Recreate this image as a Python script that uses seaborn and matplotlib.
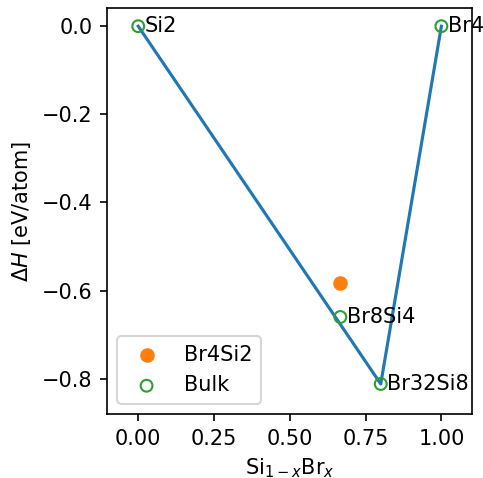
import matplotlib
matplotlib.use("Agg")
import matplotlib.pyplot as plt
import seaborn as sns
import pandas as pd

# Data
bulk_names = ["Si2", "Br4", "Br8Si4", "Br32Si8"]
bulk_x = [0.0, 1.0, 0.6667, 0.8]
bulk_y = [0.0, 0.0, -0.66, -0.812]

other_names = ["Br4Si2"]
other_x = [0.6667]
other_y = [-0.583]

hull_x = [0.0, 0.8, 1.0]
hull_y = [0.0, -0.812, 0.0]

dpi = 150
fig = plt.figure(figsize=(483 / dpi, 478 / dpi), dpi=dpi)
ax = fig.add_axes([0.2215, 0.134, 0.9766 - 0.2215, 0.983 - 0.134])

hull_df = pd.DataFrame({"x": hull_x, "y": hull_y})
sns.lineplot(data=hull_df, x="x", y="y", sort=False, color="C0", lw=1.5, ax=ax, legend=False)

sns.scatterplot(x=other_x, y=other_y, color="C1", s=36, edgecolor="C1", linewidth=1.0,
                label="Br4Si2", ax=ax, zorder=3)
sns.scatterplot(x=bulk_x, y=bulk_y, facecolor="none", edgecolor="C2", s=32,
                linewidth=1.0, label="Bulk", ax=ax, zorder=3)

for n, x, y in zip(bulk_names, bulk_x, bulk_y):
    ax.annotate(n, (x, y), xytext=(3, 0), textcoords="offset points",
                ha="left", va="center", fontsize=10)

ax.set_xlim(-0.103, 1.1)
ax.set_ylim(-0.88, 0.041)
ax.set_xticks([0.0, 0.25, 0.5, 0.75, 1.0])
ax.set_yticks([0.0, -0.2, -0.4, -0.6, -0.8])
ax.set_xlabel(r"Si$_{1-x}$Br$_x$")
ax.set_ylabel(r"$\Delta H$ [eV/atom]")
ax.legend(loc="lower left")

fig.savefig("out.png", dpi=dpi)
